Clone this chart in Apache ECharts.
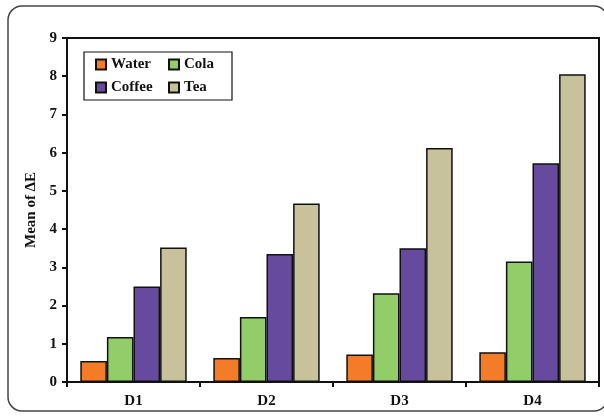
<!DOCTYPE html>
<html>
<head>
<meta charset="utf-8">
<script src="https://cdn.jsdelivr.net/npm/echarts@6/dist/echarts.min.js"></script>
<style>
html,body{margin:0;padding:0;background:#fff;}
#chart{width:604px;height:417px;}
</style>
</head>
<body>
<div id="chart"></div>
<script>
const categories = ['D1', 'D2', 'D3', 'D4'];
const water = [0.55, 0.63, 0.72, 0.78];
const cola = [1.18, 1.70, 2.32, 3.15];
const coffee = [2.50, 3.35, 3.50, 5.72];
const tea = [3.52, 4.67, 6.12, 8.05];
const yTicks = [0, 1, 2, 3, 4, 5, 6, 7, 8, 9];

const FONT = '"Liberation Serif", "Times New Roman", serif';
const chart = echarts.init(document.getElementById('chart'), null, {renderer: 'canvas'});

function bar(name, data, color) {
  return {
    name: name, type: 'bar', data: data,
    barGap: '0%', barCategoryGap: '20%',
    itemStyle: {color: color, borderColor: '#111', borderWidth: 1.5},
    emphasis: {disabled: true}
  };
}

const legendText = {fontFamily: FONT, fontWeight: 'bold', fontSize: 15, color: '#111'};

chart.setOption({
  animation: false,
  textStyle: {fontFamily: FONT},
  graphic: [
    {type: 'rect', shape: {x: 8, y: 6, width: 600, height: 405, r: 14},
     style: {fill: 'none', stroke: '#444', lineWidth: 1.5}, z: 0},
    {type: 'rect', shape: {x: 84, y: 52, width: 148, height: 48},
     style: {fill: '#fff', stroke: '#111', lineWidth: 1.2}, z: 5}
  ],
  legend: [
    {data: ['Water', 'Coffee'], orient: 'vertical', left: 95, top: 57, itemGap: 8,
     itemWidth: 10, itemHeight: 10, icon: 'rect', textStyle: legendText, padding: 0, z: 10},
    {data: ['Cola', 'Tea'], orient: 'vertical', left: 168, top: 57, itemGap: 8,
     itemWidth: 10, itemHeight: 10, icon: 'rect', textStyle: legendText, padding: 0, z: 10}
  ],
  grid: {left: 67, right: 5, top: 38, bottom: 35, show: true, borderColor: '#111', borderWidth: 2, backgroundColor: 'transparent'},
  xAxis: {
    type: 'category', data: categories,
    axisLine: {lineStyle: {color: '#111', width: 2}},
    axisTick: {show: true, length: 5, lineStyle: {color: '#111', width: 2}},
    axisLabel: {fontFamily: FONT, fontWeight: 'bold', fontSize: 15, color: '#111', margin: 12}
  },
  yAxis: {
    type: 'value', min: 0, max: 9, interval: 1,
    name: 'Mean of ΔE', nameLocation: 'middle', nameGap: 28,
    nameTextStyle: {fontFamily: FONT, fontWeight: 'bold', fontSize: 15, color: '#111'},
    axisLine: {show: true, lineStyle: {color: '#111', width: 2}},
    axisTick: {show: true, length: 5, lineStyle: {color: '#111', width: 2}},
    splitLine: {show: false},
    axisLabel: {fontFamily: FONT, fontWeight: 'bold', fontSize: 15, color: '#111', margin: 10,
      formatter: v => yTicks.includes(v) ? String(v) : ''}
  },
  series: [
    bar('Water', water, '#F47B28'),
    bar('Cola', cola, '#92CD6A'),
    bar('Coffee', coffee, '#664A9D'),
    bar('Tea', tea, '#C8C29C')
  ]
});
</script>
</body>
</html>
